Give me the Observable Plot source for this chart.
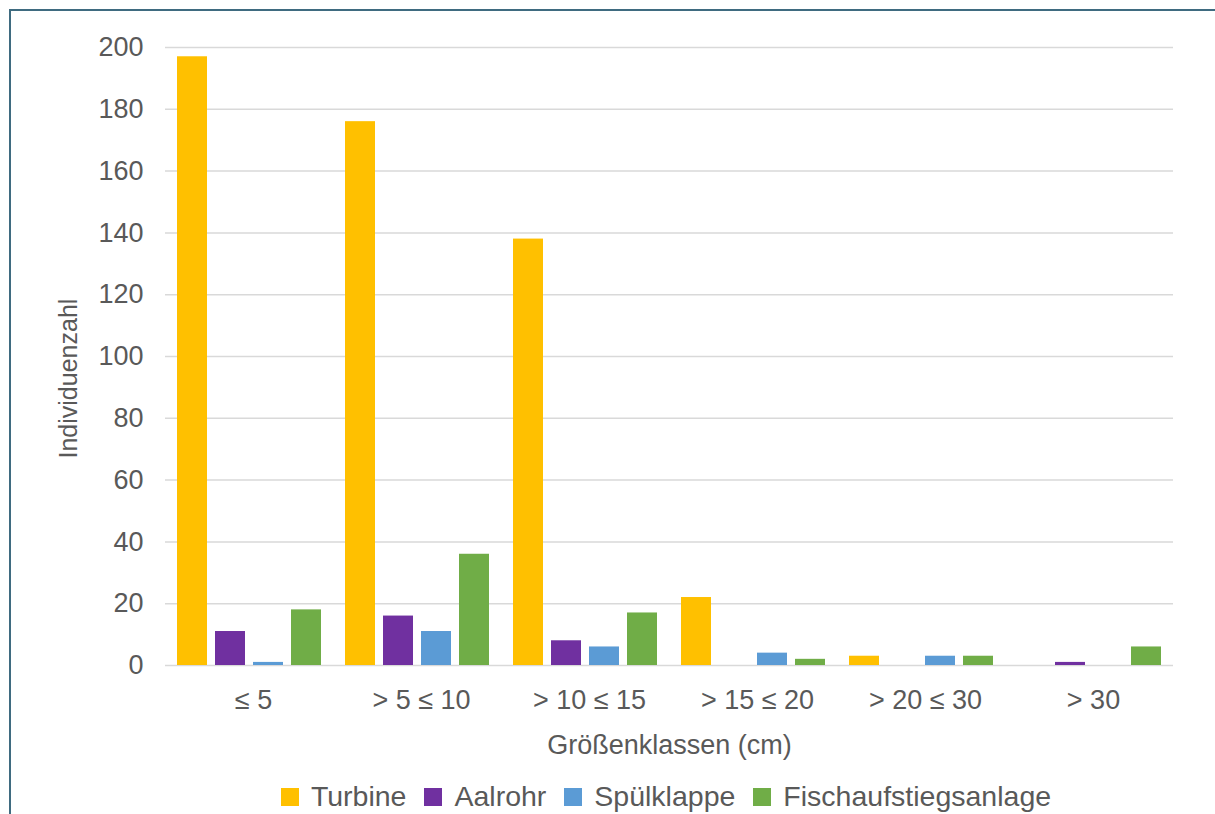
<!DOCTYPE html>
<html>
<head>
<meta charset="utf-8">
<script src="https://cdn.jsdelivr.net/npm/d3@7"></script>
<script src="https://cdn.jsdelivr.net/npm/@observablehq/plot@0.6"></script>
<style>
  html, body { margin: 0; padding: 0; background: #fff; }
  #wrap { position: relative; width: 1215px; height: 814px; overflow: hidden; font-family: "Liberation Sans", Arial, sans-serif; }
  #frame { position: absolute; left: 9px; top: 9px; width: 1240px; height: 840px; border-left: 2px solid #3f6b80; border-top: 2px solid #3f6b80; box-sizing: border-box; }
  #chart { position: absolute; left: 0; top: 0; }
  #legend { position: absolute; left: 162px; width: 1008px; top: 780px; }
  .lg-swatches { justify-content: center !important; font-family: "Liberation Sans", Arial, sans-serif !important; font-size: 28.5px !important; color: #595959 !important; }
  .lg-swatch { margin-right: 18px !important; }
  .lg-swatch:last-child { margin-right: 0 !important; }
  .lg-swatch > svg { margin-right: 12px !important; }
</style>
</head>
<body>
<div id="wrap">
  <div id="frame"></div>
  <div id="chart"></div>
  <div id="legend"></div>
</div>
<script>
const categories = ["≤ 5", "> 5 ≤ 10", "> 10 ≤ 15", "> 15 ≤ 20", "> 20 ≤ 30", "> 30"];
const seriesNames = ["Turbine", "Aalrohr", "Spülklappe", "Fischaufstiegsanlage"];
const turbine = [197, 176, 138, 22, 3, 0];
const aalrohr = [11, 16, 8, 0, 0, 1];
const spuelklappe = [1, 11, 6, 4, 3, 0];
const fischaufstiegsanlage = [18, 36, 17, 2, 3, 6];
const yTicks = [0, 20, 40, 60, 80, 100, 120, 140, 160, 180, 200];
const colors = ["#FFC000", "#7030A0", "#5B9BD5", "#70AD47"];
const xTitle = "Größenklassen (cm)";
const yTitle = "Individuenzahl";

const seriesValues = [turbine, aalrohr, spuelklappe, fischaufstiegsanlage];
const data = categories.flatMap((c, i) =>
  seriesNames.map((s, j) => ({cat: c, series: s, value: seriesValues[j][i]}))
);

const chart = Plot.plot({
  width: 1215,
  height: 770,
  marginLeft: 165,
  marginRight: 42,
  marginTop: 47,
  marginBottom: 105,
  style: {fontFamily: "'Liberation Sans', Arial, sans-serif", fontSize: "26px", color: "#595959", background: "transparent", overflow: "visible"},
  fx: {domain: categories, padding: 0, label: null, axis: null},
  x: {domain: seriesNames, paddingInner: 0.2, paddingOuter: 0.28, axis: null},
  y: {domain: [0, 200], label: null},
  color: {domain: seriesNames, range: colors},
  marks: [
    Plot.gridY(yTicks, {stroke: "#d9d9d9", strokeOpacity: 1, strokeWidth: 1.5}),
    Plot.barY(data, {fx: "cat", x: "series", y: "value", fill: "series"}),
    Plot.axisY(yTicks, {tickSize: 0, tickPadding: 22, fontSize: 27, fill: "#595959", label: null}),
    Plot.axisFx({anchor: "bottom", tickSize: 0, tickPadding: 24, dx: 4, fontSize: 27, fill: "#595959", label: null}),
    Plot.axisFx({anchor: "bottom", ticks: [], tickSize: 0, fontSize: 27, fill: "#595959", label: xTitle, labelAnchor: "center", labelArrow: "none", labelOffset: 88}),
    Plot.text([yTitle], {facet: "super", frameAnchor: "left", rotate: -90, dx: -97, dy: 102, fontSize: 25, fill: "#595959"})
  ]
});
document.getElementById("chart").appendChild(chart);

const legend = Plot.legend({
  color: {domain: seriesNames, range: colors},
  legend: "swatches",
  swatchSize: 18,
  className: "lg"
});
document.getElementById("legend").appendChild(legend);
</script>
</body>
</html>
